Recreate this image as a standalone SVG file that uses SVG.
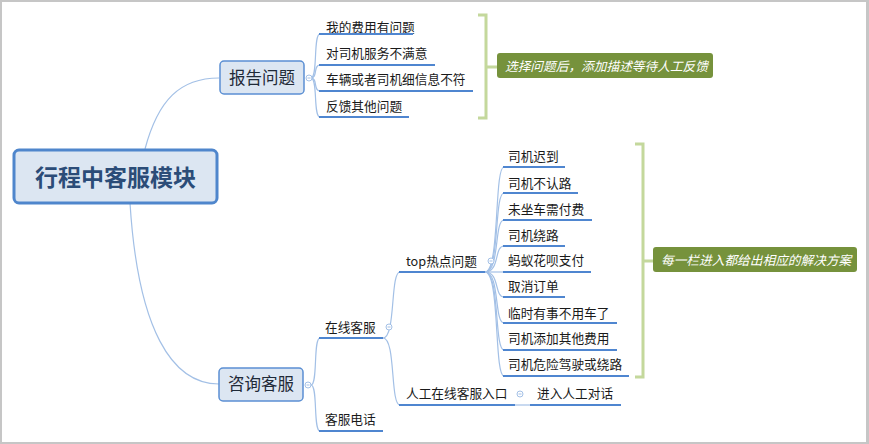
<svg xmlns="http://www.w3.org/2000/svg" width="869" height="444" viewBox="0 0 869 444">
<style>
text{font-family:"Noto Sans CJK SC","Noto Sans",sans-serif;}
.root rect{fill:#dce6f2;stroke:#4f86cc;stroke-width:3;}
.root text{font-size:23px;font-weight:bold;fill:#2b4c78;}
.main rect{fill:#dce6f2;stroke:#5b8fd3;stroke-width:1.5;}
.main text{font-size:16.5px;fill:#1f2a38;}
.sub text{font-size:12.7px;fill:#1a1a1a;}
.ul{stroke:#4f86d0;stroke-width:2;fill:none;}
.cv{stroke:#a3c0e6;stroke-width:1.2;fill:none;}
.tog{fill:#fff;stroke:#a3c0e6;stroke-width:1;}
.togm{stroke:#a3c0e6;stroke-width:1;}
.br{stroke:#c4d89c;stroke-width:3;fill:none;}
.sum rect{fill:#76923c;}
.sum text{font-size:12.7px;fill:#fff;font-style:italic;}
</style>
<rect x="0" y="0" width="869" height="444" fill="#c6c6c6"/>
<rect x="2" y="2" width="864" height="440" fill="#fff"/>

<g id="connectors">
<path class="cv" d="M145,149 C158,100 180,78 219,78"/>
<path class="cv" d="M130,203 C138,330 172,384 219,384"/>
<path class="cv" d="M311,78 C318,78 313,34 320,34"/>
<path class="cv" d="M311,78 C318,78 313,65 320,65"/>
<path class="cv" d="M311,78 C318,78 313,91 320,91"/>
<path class="cv" d="M311,78 C318,78 313,117 320,117"/>
<path class="cv" d="M311,385 C318,385 313,338 320,338"/>
<path class="cv" d="M311,385 C318,385 313,431 320,431"/>
<path class="cv" d="M383,338 C396,338 390,272 400,272"/>
<path class="cv" d="M383,338 C396,338 390,405 400,405"/>
<path class="cv" d="M485,272 C500,272 494,167 504,167"/>
<path class="cv" d="M485,272 C500,272 494,193 504,193"/>
<path class="cv" d="M485,272 C500,272 494,220 504,220"/>
<path class="cv" d="M485,272 C500,272 494,246 504,246"/>
<path class="cv" d="M485,272 L504,272"/>
<path class="cv" d="M485,272 C500,272 494,297 504,297"/>
<path class="cv" d="M485,272 C500,272 494,323 504,323"/>
<path class="cv" d="M485,272 C500,272 494,350 504,350"/>
<path class="cv" d="M485,272 C500,272 494,376 504,376"/>
<path class="cv" d="M515,405 L530,405"/>
<path class="br" d="M478,15 H486 V118 H478 M486,67 H497"/>
<path class="br" d="M635,144 H643 V377 H635 M643,261 H653"/>
</g>

<g id="root" class="root">
<rect x="14" y="150" width="203" height="53" rx="5"/>
<text x="115.5" y="186" text-anchor="middle">行程中客服模块</text>
</g>

<g id="n-report" class="main">
<rect x="220" y="61" width="84" height="33" rx="4"/>
<text x="229" y="84">报告问题</text>
<circle class="tog" cx="309" cy="78" r="3"/><path class="togm" d="M307.5,78 H310.5"/>
</g>
<g id="n-consult" class="main">
<rect x="219" y="368" width="84" height="33" rx="4"/>
<text x="228" y="390">咨询客服</text>
<circle class="tog" cx="308" cy="385" r="3"/><path class="togm" d="M306.5,385 H309.5"/>
</g>

<g id="r1" class="sub"><text x="326" y="32">我的费用有问题</text><path class="ul" d="M319,34 H413"/></g>
<g id="r2" class="sub"><text x="326" y="58">对司机服务不满意</text><path class="ul" d="M319,65 H435"/></g>
<g id="r3" class="sub"><text x="326" y="84">车辆或者司机细信息不符</text><path class="ul" d="M319,91 H473"/></g>
<g id="r4" class="sub"><text x="326" y="111">反馈其他问题</text><path class="ul" d="M319,117 H409"/></g>

<g id="s1" class="sum"><rect x="497" y="53" width="216" height="25" rx="3"/><text x="505" y="71">选择问题后，添加描述等待人工反馈</text></g>

<g id="online" class="sub"><text x="325" y="332">在线客服</text><path class="ul" d="M319,338 H383"/>
<circle class="tog" cx="389" cy="327" r="3"/><path class="togm" d="M387.5,327 H390.5"/></g>
<g id="phone" class="sub"><text x="325" y="424">客服电话</text><path class="ul" d="M319,431 H383"/></g>

<g id="top" class="sub"><text x="406" y="266">top热点问题</text><path class="ul" d="M399,272 H485"/>
<circle class="tog" cx="491" cy="261" r="3"/><path class="togm" d="M489.5,261 H492.5"/></g>
<g id="manual" class="sub"><text x="406" y="398">人工在线客服入口</text><path class="ul" d="M399,405 H515"/>
<circle class="tog" cx="520" cy="394" r="3"/><path class="togm" d="M518.5,394 H521.5"/></g>
<g id="enter" class="sub"><text x="537" y="398">进入人工对话</text><path class="ul" d="M530,405 H621"/></g>

<g id="t1" class="sub"><text x="508" y="161">司机迟到</text><path class="ul" d="M503,167 H565"/></g>
<g id="t2" class="sub"><text x="508" y="188">司机不认路</text><path class="ul" d="M503,193 H578"/></g>
<g id="t3" class="sub"><text x="508" y="214">未坐车需付费</text><path class="ul" d="M503,220 H592"/></g>
<g id="t4" class="sub"><text x="508" y="240">司机绕路</text><path class="ul" d="M503,246 H565"/></g>
<g id="t5" class="sub"><text x="508" y="265">蚂蚁花呗支付</text><path class="ul" d="M503,272 H591"/></g>
<g id="t6" class="sub"><text x="508" y="291">取消订单</text><path class="ul" d="M503,297 H565"/></g>
<g id="t7" class="sub"><text x="508" y="318">临时有事不用车了</text><path class="ul" d="M503,323 H617"/></g>
<g id="t8" class="sub"><text x="508" y="343">司机添加其他费用</text><path class="ul" d="M503,350 H617"/></g>
<g id="t9" class="sub"><text x="508" y="369">司机危险驾驶或绕路</text><path class="ul" d="M503,376 H629"/></g>

<g id="s2" class="sum"><rect x="653" y="247" width="204" height="25" rx="3"/><text x="661" y="265">每一栏进入都给出相应的解决方案</text></g>
</svg>
